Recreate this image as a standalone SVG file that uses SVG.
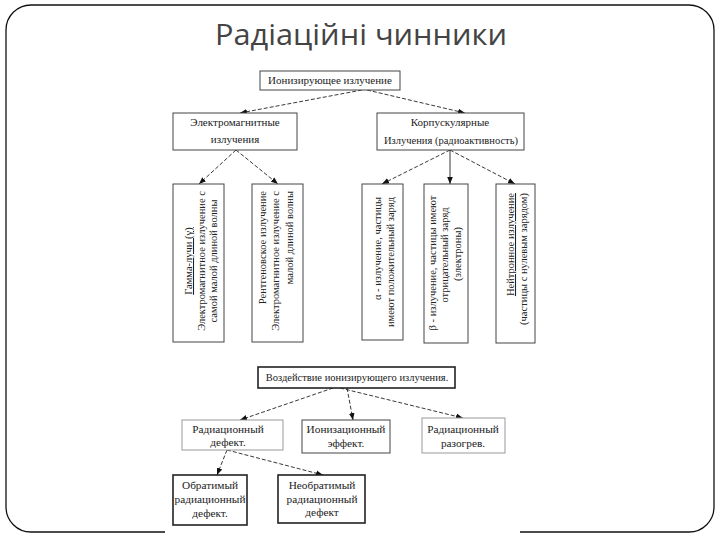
<svg xmlns="http://www.w3.org/2000/svg" width="720" height="540" viewBox="0 0 720 540">
<style>
.t{font-family:"Liberation Serif","Times New Roman",serif;fill:#222;}
.s10{font-size:10.5px;}
.s11{font-size:11px;}
.s12{font-size:11.3px;}
.box{fill:#fff;stroke:#444;stroke-width:1;}
.dark{fill:#fff;stroke:#222;stroke-width:1.6;}
.light{fill:#fff;stroke:#999;stroke-width:1;}
.c{fill:none;stroke:#222;stroke-width:0.9;stroke-dasharray:4 2;marker-end:url(#ah);}
.solid{stroke-dasharray:none;}
</style>
<defs>
<marker id="ah" viewBox="0 0 10 10" refX="10" refY="5" markerWidth="7" markerHeight="7" markerUnits="userSpaceOnUse" orient="auto">
<path d="M0 1 L10 5 L0 9 Z" fill="#111"/>
</marker>
</defs>
<rect width="720" height="540" fill="#fff"/>
<path d="M165 532 H31 A25 25 0 0 1 6 507 V30 A25 25 0 0 1 31 5 H689 A25 25 0 0 1 714 30 V507 A25 25 0 0 1 689 532 H520" fill="none" stroke="#111" stroke-width="1.3"/>
<text x="361" y="45" text-anchor="middle" font-family="'Open Sans','Noto Sans',sans-serif" font-size="29" fill="#444" textLength="292" lengthAdjust="spacingAndGlyphs">Радіаційні чинники</text>

<g id="connectors">
<line class="c" x1="362" y1="90" x2="240" y2="113"/>
<line class="c" x1="367" y1="90" x2="465" y2="113"/>
<line class="c" x1="236" y1="150" x2="199" y2="184"/>
<line class="c" x1="236" y1="150" x2="278" y2="184"/>
<line class="c" x1="450" y1="150" x2="382" y2="184"/>
<line class="c solid" x1="450" y1="150" x2="450" y2="184"/>
<line class="c" x1="450" y1="150" x2="515" y2="184"/>
<line class="c" x1="333" y1="388" x2="240" y2="420"/>
<line class="c" x1="347" y1="388" x2="353" y2="420"/>
<line class="c" x1="340" y1="388" x2="463" y2="418"/>
<line class="c" x1="227" y1="450" x2="217" y2="475"/>
<line class="c" x1="227" y1="450" x2="323" y2="475"/>
</g>

<g id="ionizing">
<rect class="box" x="260" y="71" width="140" height="19"/>
<text class="t s11" x="330" y="84" text-anchor="middle">Ионизирующее излучение</text>
</g>
<g id="electromagnetic">
<rect class="box" x="173" y="113" width="124" height="37"/>
<text class="t s11" x="235" y="126" text-anchor="middle">Электромагнитные</text>
<text class="t s11" x="235" y="143" text-anchor="middle">излучения</text>
</g>
<g id="corpuscular">
<rect class="box" x="377" y="113" width="147" height="37"/>
<text class="t s11" x="450" y="126" text-anchor="middle">Корпускулярные</text>
<text class="t s10" x="451" y="144" text-anchor="middle">Излучения (радиоактивность)</text>
</g>

<g id="gamma">
<rect class="box" x="173" y="184" width="51" height="158"/>
<text class="t s10" transform="translate(192,261) rotate(-90)" text-anchor="middle" text-decoration="underline">Гамма-лучи (γ)</text>
<text class="t s10" transform="translate(205,261) rotate(-90)" text-anchor="middle">Электромагнитное излучение с</text>
<text class="t s10" transform="translate(217,261) rotate(-90)" text-anchor="middle">самой малой длиной волны</text>
</g>
<g id="xray">
<rect class="box" x="252" y="184" width="51" height="158"/>
<text class="t s10" transform="translate(266,191) rotate(-90)" text-anchor="end">Рентгеновское излучение</text>
<text class="t s10" transform="translate(279,191) rotate(-90)" text-anchor="end">Электромагнитное излучение с</text>
<text class="t s10" transform="translate(293,191) rotate(-90)" text-anchor="end">малой длиной волны</text>
</g>
<g id="alpha">
<rect class="box" x="362" y="184" width="41" height="156"/>
<text class="t s10" transform="translate(381,197) rotate(-90)" text-anchor="end">α - излучение, частицы</text>
<text class="t s10" transform="translate(394,197) rotate(-90)" text-anchor="end">имеют положительный заряд</text>
</g>
<g id="beta">
<rect class="box" x="424" y="184" width="44" height="159"/>
<text class="t s10" transform="translate(436,263) rotate(-90)" text-anchor="middle">β - излучение, частицы имеют</text>
<text class="t s10" transform="translate(448,255) rotate(-90)" text-anchor="middle">отрицательный заряд</text>
<text class="t s10" transform="translate(461,254) rotate(-90)" text-anchor="middle">(электроны)</text>
</g>
<g id="neutron">
<rect class="box" x="496" y="184" width="39" height="159"/>
<text class="t s10" transform="translate(514,193) rotate(-90)" text-anchor="end" text-decoration="underline">Нейтронное излучение</text>
<text class="t s10" transform="translate(527,193) rotate(-90)" text-anchor="end">(частицы с нулевым зарядом)</text>
</g>

<g id="effect">
<rect class="dark" x="258" y="367" width="197" height="21"/>
<text class="t s10" x="357" y="381" text-anchor="middle">Воздействие ионизирующего излучения.</text>
</g>
<g id="rad-defect">
<rect class="light" x="182" y="420" width="101" height="30"/>
<text class="t s12" x="228" y="433" text-anchor="middle">Радиационный</text>
<text class="t s12" x="228" y="446" text-anchor="middle">дефект.</text>
</g>
<g id="ionization">
<rect class="box" x="302" y="420" width="88" height="33"/>
<text class="t s12" x="346" y="433" text-anchor="middle">Ионизационный</text>
<text class="t s12" x="346" y="447" text-anchor="middle">эффект.</text>
</g>
<g id="heating">
<rect class="light" x="422" y="418" width="83" height="35"/>
<text class="t s12" x="463" y="433" text-anchor="middle">Радиационный</text>
<text class="t s12" x="463" y="447" text-anchor="middle">разогрев.</text>
</g>
<g id="reversible">
<rect class="dark" x="173" y="475" width="74" height="50"/>
<text class="t s12" x="210" y="489" text-anchor="middle">Обратимый</text>
<text class="t s12" x="210" y="503" text-anchor="middle">радиационный</text>
<text class="t s12" x="210" y="517" text-anchor="middle">дефект.</text>
</g>
<g id="irreversible">
<rect class="dark" x="278" y="475" width="87" height="48"/>
<text class="t s12" x="322" y="489" text-anchor="middle">Необратимый</text>
<text class="t s12" x="322" y="503" text-anchor="middle">радиационный</text>
<text class="t s12" x="322" y="516" text-anchor="middle">дефект</text>
</g>
</svg>
